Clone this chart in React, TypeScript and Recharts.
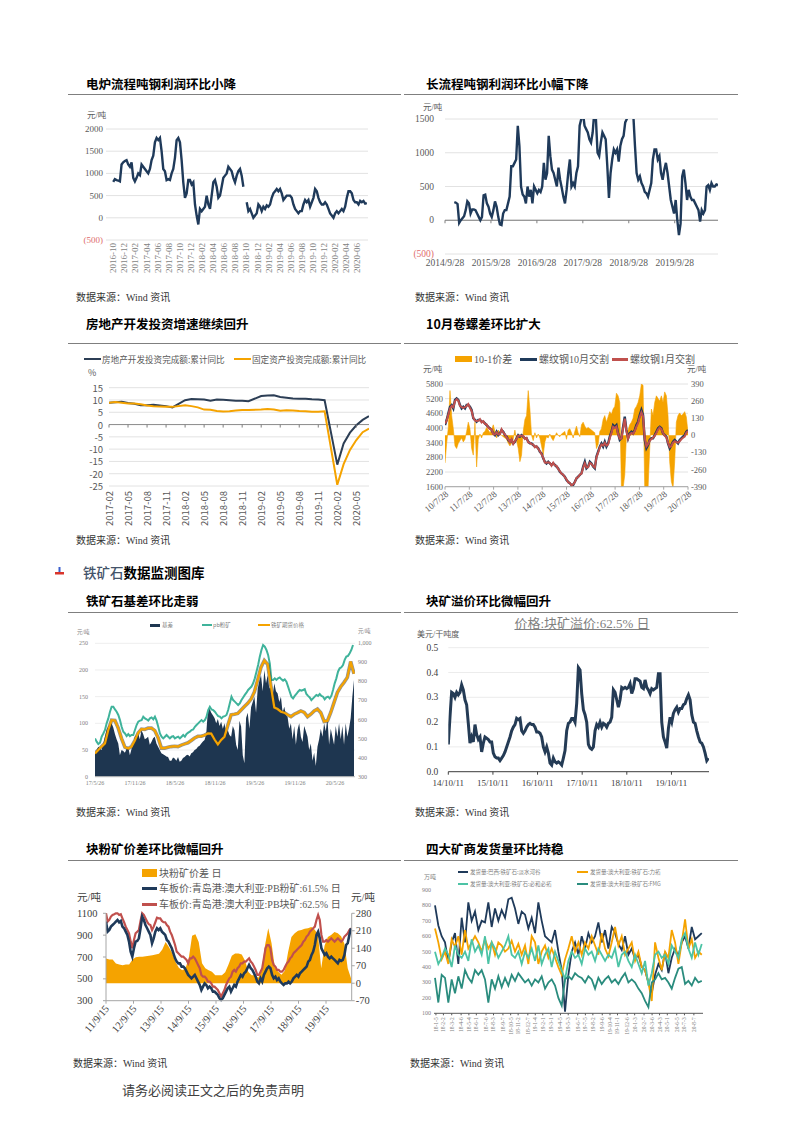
import React from "react"
import { Area, CartesianGrid, ComposedChart, Line, ReferenceLine, XAxis, YAxis } from "recharts"

const SERIF = '"Liberation Serif", "Noto Sans CJK SC", serif'
const SANS = '"Noto Sans CJK SC", "Noto Sans", sans-serif'
const NAVY = "#1f3a5a"
const ORANGE = "#f5a300"
const RED = "#c0504d"
const GRID = "#e2e2e2"
const GREY = "#595959"

// ---------- data ----------

// 电炉流程吨钢利润 (元/吨), 2016-10 .. 2020-07
const eafTicks = ["2016-10", "2016-12", "2017-02", "2017-04", "2017-06", "2017-08", "2017-10", "2017-12", "2018-02", "2018-04", "2018-06", "2018-08", "2018-10", "2018-12", "2019-02", "2019-04", "2019-06", "2019-08", "2019-10", "2019-12", "2020-02", "2020-04", "2020-06"]
const eafProfit = [
  810, 870, 850, 840, 820, 1200, 1250, 1280, 1300, 1200, 1150, 1250, 900, 820, 900, 1000, 960, 1200, 1150, 1100,
  1050, 1000, 1100, 1300, 1400, 1700, 1800, 1750, 1800, 1500, 1100, 1050, 850, 870, 850, 1000, 1100, 1350, 1750, 1800,
  1700, 1300, 800, 450, 550, 850, 850, 750, 800, 300, 50, -150, 200, 150, 200, 250, 500, 300, 200, 500,
  800, 850, 700, 450, 500, 700, 900, 950, 1000, 1150, 1100, 1050, 900, 800, 950, 1050, 1100, 950, 700, null,
  350, 150, 200, 100, 0, 50, 100, 300, 250, 150, 250, 200, 280, 250, 300, 450, 550, 600, 650, 600,
  650, 550, 400, 450, 500, 500, 500, 450, 300, 200, 150, 100, 150, 150, 300, 400, 350, 400, 250, 350,
  450, 650, 600, 450, 350, 300, 300, 350, 300, 200, 100, 50, 0, 100, 150, 100, 150, 200, 150, 250,
  450, 600, 600, 550, 400, 350, 350, 300, 380, 350, 380, 320, 330,
]

// 长流程吨钢利润 (元/吨), 2014-12 .. 2020-08
const bofTicks = ["2014/9/28", "2015/9/28", "2016/9/28", "2017/9/28", "2018/9/28", "2019/9/28"]
const bofProfit = [
  270, 260, 240, -40, 0, 30, 60, 150, 280, 250, 100, 160, 160, 150, 100, 50, 0, 50, 370, 380,
  250, 200, 100, 50, 150, 280, 200, 50, -60, -70, 100, 150, 150, 250, 350, 800, 800, 850, 900, 1400,
  1100, 500, 380, 350, 250, 500, 350, 450, 250, 500, 450, 400, 450, 420, 500, 850, 600, 700, 1250, 950,
  750, 700, 600, 500, 780, 600, 480, 350, 250, 450, 700, 900, 500, 550, 500, 700, 800, 1400, 1500, 1600,
  1400, 1350, 1300, 1200, 1150, 1300, 1600, 1500, 1000, 950, 1150, 1300, 1250, 1200, 800, 330, 700, 900, 1050, 1000,
  1050, 870, 1100, 1200, 1250, 1450, 1500, 1700, 1800, 1600, 1550, 1100, 700, 600, 650, 550, 500, 420, 400, 350,
  450, 550, 900, 1050, 1050, 900, 950, 700, 600, 750, 850, 700, 500, 300, 200, 100, 300, 0, -220, -50,
  650, 750, 550, 300, 450, 350, 300, 300, 250, 200, 150, -20, 150, 100, 150, 500, 520, 450, 550, 500,
  500, 530, 520,
]

// 房地产开发投资 / 固定资产投资 累计同比 (%)
const fixedMonths = [
  "2017-02", "2017-03", "2017-04", "2017-05", "2017-06", "2017-07", "2017-08", "2017-09", "2017-10", "2017-11", "2017-12",
  "2018-02", "2018-03", "2018-04", "2018-05", "2018-06", "2018-07", "2018-08", "2018-09", "2018-10", "2018-11", "2018-12",
  "2019-02", "2019-03", "2019-04", "2019-05", "2019-06", "2019-07", "2019-08", "2019-09", "2019-10", "2019-11", "2019-12",
  "2020-02", "2020-03", "2020-04", "2020-05", "2020-06", "2020-07",
]
const realEstateYoy = [
  8.9, 9.1, 9.3, 8.8, 8.5, 7.9, 7.9, 8.1, 7.8, 7.5, 7.0,
  9.9, 10.4, 10.3, 10.2, 9.7, 10.2, 10.1, 9.9, 9.7, 9.7, 9.5,
  11.6, 11.8, 11.9, 11.2, 10.9, 10.6, 10.5, 10.5, 10.3, 10.2, 9.9,
  -16.3, -7.7, -3.3, -0.3, 1.9, 3.4,
]
const faiYoy = [
  8.9, 9.2, 8.9, 8.6, 8.6, 8.3, 7.8, 7.5, 7.3, 7.2, 7.2,
  7.9, 7.5, 7.0, 6.1, 6.0, 5.5, 5.3, 5.4, 5.7, 5.9, 5.9,
  6.1, 6.3, 6.1, 5.6, 5.8, 5.7, 5.5, 5.4, 5.2, 5.2, 5.4,
  -24.5, -16.1, -10.3, -6.3, -3.1, -1.6,
]
const fixedTicks = ["2017-02", "2017-05", "2017-08", "2017-11", "2018-02", "2018-05", "2018-08", "2018-11", "2019-02", "2019-05", "2019-08", "2019-11", "2020-02", "2020-05"]

// 螺纹钢 10月 / 1月 交割 (元/吨) and 10-1 价差
const rebarTicks = ["10/7/28", "11/7/28", "12/7/28", "13/7/28", "14/7/28", "15/7/28", "16/7/28", "17/7/28", "18/7/28", "19/7/28", "20/7/28"]
const rebarOct = [
  4120, 4330, 4600, 4870, 4940, 4800, 5150, 5210, 5150, 4940, 4800, 4870, 4800, 4940, 4940, 4870, 4740, 4400, 4330, 4260,
  4330, 4330, 4260, 4260, 4190, 4120, 4050, 3990, 3920, 3780, 3710, 3850, 3710, 3780, 3920, 3850, 3710, 3650, 3510, 3440,
  3510, 3370, 3440, 3580, 3710, 3650, 3710, 3650, 3580, 3580, 3440, 3370, 3370, 3300, 3240, 3240, 3170, 3030, 2960, 2760,
  2620, 2550, 2620, 2550, 2490, 2550, 2490, 2420, 2350, 2210, 2150, 2080, 2010, 1870, 1800, 1740, 1670, 1670, 1800, 1940,
  2010, 2080, 2150, 2420, 2620, 2350, 2420, 2620, 2550, 2420, 2350, 2830, 3030, 3240, 3370, 3240, 3440, 3240, 3370, 3650,
  3850, 4120, 4050, 4120, 3780, 3510, 3580, 4050, 4460, 3920, 3580, 3780, 3850, 3780, 3920, 4120, 4260, 4530, 4740, 4530,
  3510, 3170, 3300, 3510, 3580, 3580, 3710, 3850, 3990, 4050, 3990, 3780, 3710, 3650, 3370, 3170, 3300, 3440, 3510, 3440,
  3370, 3510, 3580, 3650, 3710, 3850, 3920,
]
const rebarJan = [
  4180, 4300, 4550, 4800, 4900, 4850, 5100, 5180, 5120, 4900, 4850, 4820, 4850, 4900, 4980, 4820, 4700, 4420, 4300, 4290,
  4300, 4360, 4230, 4280, 4160, 4150, 4020, 3960, 3950, 3750, 3740, 3820, 3740, 3750, 3950, 3820, 3740, 3620, 3540, 3420,
  3540, 3350, 3470, 3550, 3680, 3680, 3680, 3680, 3550, 3600, 3410, 3400, 3340, 3330, 3210, 3260, 3150, 3050, 2930, 2790,
  2590, 2580, 2600, 2580, 2460, 2580, 2470, 2450, 2330, 2240, 2130, 2100, 1990, 1900, 1780, 1760, 1650, 1700, 1780, 1960,
  1990, 2100, 2130, 2380, 2560, 2380, 2400, 2580, 2530, 2440, 2380, 2800, 2990, 3200, 3330, 3280, 3400, 3280, 3330, 3580,
  3800, 4050, 4000, 4060, 3760, 3560, 3560, 3980, 4380, 3880, 3560, 3740, 3800, 3760, 3880, 4060, 4200, 4450, 4640, 4480,
  3600, 3250, 3340, 3480, 3550, 3600, 3680, 3800, 3940, 4020, 3960, 3800, 3680, 3620, 3400, 3220, 3260, 3400, 3460, 3420,
  3400, 3460, 3540, 3600, 3650, 3800, 3880,
]
const octJanSpread = [
  -210, -60, 60, 340, 150, 50, -80, -100, -60, -40, -20, -50, -30, 30, 100, 50, -100, -150, 100, -240,
  -30, 10, -20, 20, 30, 60, 40, 20, 40, 80, 30, -20, 40, 10, 0, -10, -20, -30, -60, -80,
  -60, -30, 40, -40, -100, -200, -150, 30, 120, 150, 340, 200, 0, -40, 20, -20, 10, -20, -80, -150,
  -50, -10, -20, 10, -20, -40, -10, 20, 0, -10, 10, 20, 30, -30, 40, 50, 20, -20, 30, 70,
  20, -10, 80, 100, 70, 50, 60, 50, 40, 30, 20, -100, -70, 30, 50, 120, 150, 100, 140, 180,
  160, 200, 220, 320, 300, 250, -400, -400, -300, 0, 40, 80, 100, 130, 200, 220, 250, 300, 390, 380,
  -400, -400, -400, -100, 200, 150, 250, 300, 280, 260, 300, 250, 330, 300, 150, -200, -350, -400, -200, 100,
  150, 170, 150, 160, 180, 140, 20,
]

// 铁矿石基差 (元/吨, 左轴) / pb粉矿 & 铁矿期货价格 (元/吨, 右轴)
const basisTicks = ["17/5/26", "17/11/26", "18/5/26", "18/11/26", "19/5/26", "19/11/26", "20/5/26"]
const oreBasis = [
  44, 50, 56, 52, 50, 62, 75, 88, 94, 98, 100, 92, 80, 70, 62, 40, 50, 48, 45, 52,
  56, 40, 52, 60, 75, 78, 81, 70, 87, 80, 70, 72, 75, 60, 65, 72, 75, 62, 56, 50,
  44, 42, 40, 38, 37, 30, 30, 36, 34, 30, 37, 28, 30, 35, 37, 40, 41, 38, 44, 46,
  50, 52, 56, 58, 62, 66, 69, 80, 125, 128, 120, 115, 110, 100, 108, 95, 103, 90, 100, 80,
  87, 78, 75, 95, 87, 60, 50, 105, 94, 40, 25, 110, 120, 90, 130, 140, 150, 120, 165, 180,
  190, 160, 200, 175, 190, 165, 172, 150, 175, 160, 156, 140, 150, 120, 131, 115, 112, 90, 100, 70,
  95, 60, 88, 100, 75, 65, 95, 85, 75, 50, 62, 30, 45, 20, 56, 70, 90, 75, 100, 85,
  110, 60, 90, 75, 60, 95, 75, 100, 70, 95, 60, 100, 75, 90, 110, 150, 181,
]
const pbFinesSpot = [
  501, 484, 471, 478, 510, 527, 545, 580, 606, 641, 667, 667, 653, 641, 624, 597, 562, 536, 527, 513,
  524, 513, 519, 519, 545, 571, 589, 594, 597, 615, 606, 601, 594, 606, 611, 601, 615, 594, 562, 527,
  510, 501, 510, 519, 510, 501, 510, 513, 501, 506, 510, 501, 510, 519, 510, 524, 531, 536, 545, 548,
  562, 571, 580, 589, 597, 589, 597, 615, 650, 667, 653, 650, 641, 629, 618, 615, 606, 615, 618, 624,
  650, 685, 720, 702, 694, 685, 676, 685, 702, 716, 729, 741, 755, 764, 773, 790, 816, 851, 886, 930,
  965, 991, 983, 965, 939, 895, 808, 808, 816, 808, 816, 821, 811, 804, 811, 799, 773, 746, 720, 711,
  724, 734, 746, 755, 751, 755, 759, 734, 724, 716, 702, 711, 720, 729, 724, 734, 724, 720, 706, 716,
  720, 711, 724, 755, 790, 816, 851, 869, 874, 886, 913, 930, 934, 948, 965, 991,
]
const oreFutures = [
  422, 440, 458, 475, 545, 597, 595, 555, 500, 455, 448, 458, 490, 530, 550, 548, 555, 555, 542, 505,
  450, 450, 455, 458, 460, 458, 466, 472, 478, 490, 503, 512, 512, 518, 527, 526, 495, 470, 493, 510,
  570, 625, 628, 632, 650, 668, 685, 707, 745, 808, 875, 910, 890, 773, 663, 655, 641, 636, 625, 615,
  628, 636, 645, 637, 615, 628, 645, 655, 636, 590, 593, 637, 690, 742, 772, 795, 821, 904, 840,
]

// 块矿溢价:62.5% (美元/干吨度)
const lumpTicks = ["14/10/11", "15/10/11", "16/10/11", "17/10/11", "18/10/11", "19/10/11"]
const lumpPremium = [
  0.11, 0.22, 0.32, 0.315, 0.3, 0.32, 0.31, 0.32, 0.35, 0.33, 0.29, 0.27, 0.195, 0.115, 0.14, 0.12, 0.19, 0.15, 0.13, 0.14,
  0.08, 0.115, 0.14, 0.135, 0.13, 0.12, 0.12, 0.075, 0.06, 0.055, 0.055, 0.045, 0.055, 0.065, 0.08, 0.1, 0.12, 0.14, 0.165, 0.18,
  0.19, 0.215, 0.21, 0.215, 0.165, 0.155, 0.165, 0.18, 0.19, 0.195, 0.19, 0.19, 0.18, 0.16, 0.16, 0.155, 0.14, 0.1, 0.08, 0.1,
  0.075, 0.035, 0.027, 0.055, 0.04, 0.035, 0.04, 0.035, 0.027, 0.055, 0.085, 0.165, 0.195, 0.2, 0.215, 0.215, 0.2, 0.275, 0.42, 0.41,
  0.315, 0.25, 0.23, 0.2, 0.11, 0.095, 0.09, 0.1, 0.165, 0.19, 0.18, 0.2, 0.18, 0.195, 0.19, 0.18, 0.195, 0.2, 0.22, 0.33,
  0.32, 0.29, 0.26, 0.29, 0.34, 0.335, 0.34, 0.335, 0.34, 0.355, 0.315, 0.335, 0.375, 0.375, 0.37, 0.365, 0.34, 0.335, 0.37, 0.34,
  0.33, 0.315, 0.335, 0.33, 0.335, 0.34, 0.395, 0.395, 0.2, 0.14, 0.12, 0.095, 0.175, 0.22, 0.2, 0.235, 0.25, 0.26, 0.24, 0.255,
  0.255, 0.27, 0.275, 0.295, 0.31, 0.29, 0.23, 0.2, 0.195, 0.165, 0.14, 0.12, 0.115, 0.1, 0.075, 0.045, 0.055,
]

// 块粉矿价差 (右轴) / PB粉矿 & PB块矿 车板价 (左轴), 元/吨
const qdTicks = ["11/9/15", "12/9/15", "13/9/15", "14/9/15", "15/9/15", "16/9/15", "17/9/15", "18/9/15", "19/9/15"]
const lumpFineSpread = [
  99, 95, 95, 79, 75, 72, 75, 75, 95, 104, 106, 106, 108, 110, 112, 115, 118, 135, 165, 145,
  120, 85, 62, 52, 59, 100, 190, 196, 165, 80, 60, 52, 46, 32, 32, 32, 44, 75, 110, 119,
  119, 115, 90, 45, 32, 32, 22, 50, 150, 220, 160, 62, 46, 34, 50, 125, 185, 200, 210, 213,
  218, 220, 225, 215, 195, 60, 150, 185, 193, 205, 200, 188, 158, 60, 20,
]
const pbFines615 = [
  1024, 932, 947, 978, 993, 1008, 1024, 1039, 1018, 1030, 978, 963, 932, 902, 841, 749, 703, 780, 841, 847,
  871, 963, 1070, 1039, 993, 963, 932, 902, 826, 871, 932, 963, 947, 963, 932, 917, 902, 856, 841, 810,
  780, 734, 688, 658, 642, 642, 612, 612, 597, 566, 536, 520, 505, 520, 536, 505, 475, 444, 398, 429,
  459, 444, 414, 429, 414, 383, 383, 368, 353, 322, 307, 322, 353, 383, 414, 429, 383, 414, 444, 429,
  475, 505, 536, 520, 551, 566, 597, 627, 597, 582, 551, 520, 475, 459, 505, 475, 536, 566, 597, 612,
  597, 536, 505, 520, 490, 505, 475, 459, 444, 459, 459, 475, 459, 475, 505, 520, 536, 520, 551, 566,
  582, 597, 612, 658, 673, 719, 749, 810, 902, 932, 871, 780, 749, 719, 734, 703, 688, 703, 688, 673,
  658, 642, 673, 664, 673, 719, 810, 826, 902, 963,
]
const pbLump625 = [
  1100, 1024, 1039, 1070, 1085, 1091, 1100, 1100, 1085, 1091, 1054, 1018, 978, 947, 917, 841, 780, 856, 917, 932,
  947, 1030, 1100, 1085, 1054, 1024, 1000, 993, 947, 978, 1018, 1060, 1054, 1054, 1030, 1018, 1018, 993, 978, 932,
  902, 856, 810, 749, 734, 719, 703, 703, 688, 673, 642, 688, 688, 703, 688, 658, 627, 597, 536, 520,
  520, 505, 475, 475, 459, 429, 429, 414, 398, 368, 337, 368, 398, 444, 475, 505, 520, 566, 582, 566,
  597, 612, 642, 642, 658, 658, 673, 688, 658, 642, 612, 582, 536, 536, 566, 597, 688, 780, 810, 810,
  780, 673, 627, 612, 582, 582, 566, 566, 582, 612, 642, 658, 688, 703, 734, 749, 765, 780, 795, 810,
  841, 856, 887, 902, 932, 947, 963, 978, 1039, 1085, 1039, 902, 841, 841, 856, 841, 856, 871, 856, 841,
  856, 871, 856, 841, 856, 887, 902, 917, 947, 963,
]

// 四大矿商发货量 (万吨)
const shipTicks = ["18-1-5", "18-2-2", "18-3-2", "18-4-6", "18-5-4", "18-6-1", "18-7-6", "18-8-3", "18-9-7", "18-10-5", "18-11-2", "18-12-7", "19-1-4", "19-2-1", "19-3-1", "19-4-5", "19-5-3", "19-6-7", "19-7-5", "19-8-2", "19-9-6", "19-10-4", "19-11-1", "19-12-6", "20-1-3", "20-2-7", "20-3-6", "20-4-3", "20-5-1", "20-6-5", "20-7-3", "20-8-7"]
const valeShip = [
  800, 670, 600, 560, 430, 560, 620, 420, 720, 560, 820, 700, 760, 640, 700, 690, 820, 660, 780, 700,
  770, 720, 840, 850, 780, 680, 760, 740, 650, 720, 620, 820, 700, 600, 580, 560, 640, 500, 380, 110,
  350, 500, 560, 480, 600, 520, 620, 560, 600, 690, 560, 640, 520, 660, 620, 550, 510, 600, 480, 520,
  450, 480, 400, 380, 300, 230, 350, 420, 380, 500, 360, 460, 520, 470, 560, 600, 520, 660, 580, 600, 620,
]
const rioShip = [
  650, 560, 450, 500, 420, 580, 530, 600, 480, 640, 520, 560, 600, 560, 500, 580, 520, 560, 480, 560,
  540, 500, 520, 570, 500, 550, 480, 540, 420, 600, 560, 420, 500, 540, 460, 520, 460, 400, 350, 450,
  520, 600, 500, 560, 480, 560, 520, 600, 540, 480, 620, 520, 470, 560, 660, 540, 600, 480, 520, 560,
  440, 500, 400, 380, 300, 180, 560, 460, 380, 500, 460, 640, 560, 420, 560, 710, 520, 580, 460, 500, 480,
]
const bhpShip = [
  500, 420, 460, 520, 480, 400, 540, 480, 460, 500, 440, 580, 500, 540, 480, 600, 420, 560, 520, 460,
  500, 540, 600, 480, 460, 500, 420, 500, 460, 520, 440, 540, 420, 480, 520, 400, 500, 440, 380, 320,
  440, 500, 460, 480, 420, 520, 480, 500, 440, 520, 480, 440, 480, 460, 520, 400, 480, 500, 440, 400,
  480, 420, 360, 440, 280, 360, 480, 500, 460, 480, 420, 540, 500, 460, 580, 620, 520, 460, 560, 480, 550,
]
const fmgShip = [
  330, 170, 350, 330, 170, 320, 230, 340, 260, 380, 330, 300, 380, 350, 380, 320, 170, 320, 260, 340,
  270, 330, 280, 350, 310, 360, 330, 300, 320, 280, 320, 300, 340, 260, 300, 320, 280, 200, 150, 320,
  340, 320, 360, 340, 330, 300, 340, 320, 260, 330, 290, 320, 340, 300, 320, 290, 330, 360, 300, 320,
  300, 260, 230, 180, 140, 300, 320, 360, 320, 330, 300, 260, 330, 390, 400, 290, 310, 280, 330, 300, 310,
]

// ---------- helpers ----------

// months since 2000-01 for "2016-10", "14/10/11", "18-1-5"
const mo = (s: string) => {
  const [y, m, d] = s.split(/[-/]/).map(Number)
  const yy = y < 100 ? 2000 + y : y
  return (yy - 2000) * 12 + (m - 1) + (d ? (d - 1) / 30 : 0)
}

// readings taken at even spacing between two dates
const along = (vals: (number | null)[], t0: number, t1: number) =>
  vals.map((v, i) => ({ t: t0 + ((t1 - t0) * i) / (vals.length - 1), v }))

const Txt = ({ x, y, size, color = "#404040", font = SERIF, weight = 400, center = false, children, style = {} }: any) => (
  <div
    style={{
      position: "absolute", left: x, top: y - size * 0.75, fontSize: size, lineHeight: `${size * 1.5}px`,
      color, fontFamily: font, fontWeight: weight, whiteSpace: "nowrap",
      transform: center ? "translateX(-50%)" : undefined, ...style,
    }}
  >
    {children}
  </div>
)

const Swatch = ({ x, y, w, h, color }: any) => (
  <div style={{ position: "absolute", left: x, top: y - h / 2, width: w, height: h, background: color }} />
)

const Rule = ({ x1, x2, y }: any) => (
  <div style={{ position: "absolute", left: x1, top: y, width: x2 - x1, height: 1, background: "#7f7f7f" }} />
)

const Title = ({ x, y, children }: any) => (
  <Txt x={x} y={y} size={12.5} color="#000" font={SANS} weight={700}>{children}</Txt>
)

const Source = ({ x, y }: any) => <Txt x={x} y={y} size={10} color="#333">数据来源：Wind 资讯</Txt>

const paren = (v: number) => (v < 0 ? `(${-v})` : `${v}`)

// ---------- charts ----------

function EafChart() {
  const PL = 36, PB = 140
  const t0 = mo("2016-10")
  const ticks = eafTicks.map(mo)
  return (
    <ComposedChart width={330} height={190} margin={{ top: 29, right: 32, bottom: 5, left: 0 }}>
      <CartesianGrid vertical={false} stroke={GRID} />
      <XAxis type="number" dataKey="t" domain={[t0 - 1.3, t0 + 45.9]} allowDataOverflow ticks={ticks} interval={0}
        height={45} axisLine={false} tickLine={false} tickSize={0}
        tick={(p: any) => (
          <text x={p.x} y={PB + 3} transform={`rotate(-90 ${p.x} ${PB + 3})`} textAnchor="end" dominantBaseline="central"
            fontSize={9} fontFamily={SERIF} fill="#7f7f7f">{eafTicks[ticks.indexOf(p.payload.value)]}</text>
        )} />
      <YAxis type="number" domain={[-500, 2000]} ticks={[-500, 0, 500, 1000, 1500, 2000]} interval={0} width={PL}
        axisLine={false} tickLine={false} tickSize={0}
        tick={(p: any) => (
          <text x={PL - 3} y={p.y} textAnchor="end" dominantBaseline="central" fontSize={9} fontFamily={SERIF}
            fill={p.payload.value < 0 ? "#e06c6c" : GREY}>{paren(p.payload.value)}</text>
        )} />
      <Line data={along(eafProfit, t0, t0 + 45.69)} dataKey="v" stroke={NAVY} strokeWidth={2.4} dot={false}
        activeDot={false} isAnimationActive={false} />
    </ComposedChart>
  )
}

function BofChart() {
  const PL = 40, PB = 154, Z = 120.25
  const t0 = mo("2014/9/28")
  const ticks = bofTicks.map(mo)
  return (
    <ComposedChart width={335} height={175} margin={{ top: 19, right: 22, bottom: 1, left: 0 }}>
      <CartesianGrid vertical={false} stroke={GRID} />
      <XAxis type="number" dataKey="t" domain={[t0, t0 + 71.3]} allowDataOverflow ticks={ticks} interval={0}
        height={20} axisLine={false} tickLine={false} tickSize={0}
        tick={(p: any) => (
          <g>
            <line x1={p.x} x2={p.x} y1={Z} y2={Z + 3} stroke="#7f7f7f" />
            <text x={p.x} y={PB + 9} textAnchor="middle" dominantBaseline="central" fontSize={9.5} fontFamily={SERIF}
              fill={GREY}>{bofTicks[ticks.indexOf(p.payload.value)]}</text>
          </g>
        )} />
      <YAxis type="number" domain={[-500, 1500]} allowDataOverflow ticks={[-500, 0, 500, 1000, 1500]} interval={0}
        width={PL} axisLine={false} tickLine={false} tickSize={0}
        tick={(p: any) => (
          <text x={PL - 11} y={p.y} textAnchor="end" dominantBaseline="central" fontSize={9.5} fontFamily={SERIF}
            fill={p.payload.value < 0 ? "#e06c6c" : GREY}>{paren(p.payload.value)}</text>
        )} />
      <ReferenceLine y={0} stroke="#7f7f7f" />
      <Line data={along(bofProfit, t0 + 2.43, t0 + 71.3)} dataKey="v" stroke={NAVY} strokeWidth={2.4} dot={false}
        activeDot={false} isAnimationActive={false} />
    </ComposedChart>
  )
}

function FixedInvChart() {
  const PL = 39, PB = 121, Z = 59.56
  const ticks = fixedTicks.map(mo)
  const re = fixedMonths.map((m, i) => ({ t: mo(m), v: realEstateYoy[i] }))
  const fai = fixedMonths.map((m, i) => ({ t: mo(m), v: faiYoy[i] }))
  return (
    <ComposedChart width={330} height={165} margin={{ top: 22.7, right: 31, bottom: 0, left: 0 }}>
      <CartesianGrid vertical={false} stroke={GRID} />
      <XAxis type="number" dataKey="t" domain={[mo("2017-02"), mo("2020-07")]} allowDataOverflow ticks={ticks}
        interval={0} height={44} axisLine={false} tickLine={false} tickSize={0}
        tick={(p: any) => (
          <g>
            <line x1={p.x} x2={p.x} y1={Z} y2={Z + 3} stroke="#7f7f7f" />
            <text x={p.x} y={PB + 5} transform={`rotate(-90 ${p.x} ${PB + 5})`} textAnchor="end"
              dominantBaseline="central" fontSize={9.5} fontFamily={SANS} fill={GREY}>
              {fixedTicks[ticks.indexOf(p.payload.value)]}
            </text>
          </g>
        )} />
      <YAxis type="number" domain={[-25, 15]} ticks={[-25, -20, -15, -10, -5, 0, 5, 10, 15]} interval={0} width={PL}
        axisLine={false} tickLine={false} tickSize={0}
        tick={(p: any) => (
          <text x={PL - 6} y={p.y} textAnchor="end" dominantBaseline="central" fontSize={9.5} fontFamily={SANS}
            fill={GREY}>{p.payload.value}</text>
        )} />
      <ReferenceLine y={0} stroke="#8c8c8c" />
      <Line data={re} dataKey="v" stroke="#2c3e55" strokeWidth={2} dot={false} activeDot={false} isAnimationActive={false} />
      <Line data={fai} dataKey="v" stroke={ORANGE} strokeWidth={2} dot={false} activeDot={false} isAnimationActive={false} />
    </ComposedChart>
  )
}

function RebarChart() {
  const PL = 40, PR = 283, PB = 121.7
  const t0 = mo("10/7/28")
  const ticks = rebarTicks.map(mo)
  const t1 = t0 + 120
  return (
    <ComposedChart width={335} height={155} margin={{ top: 19, right: 0, bottom: 0, left: 0 }}>
      <CartesianGrid vertical={false} stroke={GRID} />
      <XAxis type="number" dataKey="t" domain={[t0, t1]} allowDataOverflow ticks={ticks} interval={0} height={33.3}
        axisLine={{ stroke: "#a6a6a6" }} tickLine={{ stroke: "#a6a6a6" }} tickSize={3}
        tick={(p: any) => (
          <text x={p.x + 2} y={PB + 6} transform={`rotate(-40 ${p.x + 2} ${PB + 6})`} textAnchor="end"
            dominantBaseline="central" fontSize={9} fontFamily={SERIF} fill={GREY}>
            {rebarTicks[ticks.indexOf(p.payload.value)]}
          </text>
        )} />
      <YAxis type="number" domain={[1600, 5800]} ticks={[1600, 2200, 2800, 3400, 4000, 4600, 5200, 5800]} interval={0}
        width={PL} axisLine={false} tickLine={false} tickSize={0}
        tick={(p: any) => (
          <text x={PL - 2} y={p.y} textAnchor="end" dominantBaseline="central" fontSize={8.5} fontFamily={SERIF}
            fill={GREY}>{p.payload.value}</text>
        )} />
      <YAxis yAxisId="r" orientation="right" type="number" domain={[-390, 390]} allowDataOverflow
        ticks={[-390, -260, -130, 0, 130, 260, 390]} interval={0} width={52} axisLine={false} tickLine={false} tickSize={0}
        tick={(p: any) => (
          <text x={PR + 3} y={p.y} textAnchor="start" dominantBaseline="central" fontSize={8.5} fontFamily={SERIF}
            fill={GREY}>{p.payload.value}</text>
        )} />
      <Area yAxisId="r" data={along(octJanSpread, t0, t1)} dataKey="v" baseValue={0} type="linear" fill={ORANGE}
        fillOpacity={1} stroke={ORANGE} strokeWidth={0.6} dot={false} activeDot={false} isAnimationActive={false} />
      <Line data={along(rebarOct, t0, t1)} dataKey="v" stroke={NAVY} strokeWidth={2.4} dot={false} activeDot={false}
        isAnimationActive={false} />
      <Line data={along(rebarJan, t0, t1)} dataKey="v" stroke={RED} strokeWidth={2} dot={false} activeDot={false}
        isAnimationActive={false} />
    </ComposedChart>
  )
}

function BasisChart() {
  const PL = 25, PR = 285, PB = 156.7
  const t0 = mo("17/5/26")
  const ticks = basisTicks.map(mo)
  const t1 = t0 + 38.85
  return (
    <ComposedChart width={310} height={170} margin={{ top: 23.3, right: 0, bottom: 0, left: 0 }}>
      <CartesianGrid vertical={false} stroke="#eeeeee" />
      <XAxis type="number" dataKey="t" domain={[t0, t0 + 39]} allowDataOverflow ticks={ticks} interval={0} height={13.3}
        axisLine={{ stroke: "#bfbfbf" }} tickLine={false} tickSize={0}
        tick={(p: any) => (
          <text x={p.x} y={PB + 6.6} textAnchor="middle" dominantBaseline="central" fontSize={6} fontFamily={SERIF}
            fill="#7f7f7f">{basisTicks[ticks.indexOf(p.payload.value)]}</text>
        )} />
      <YAxis type="number" domain={[0, 250]} ticks={[0, 50, 100, 150, 200, 250]} interval={0} width={PL}
        axisLine={false} tickLine={false} tickSize={0}
        tick={(p: any) => (
          <text x={PL - 7} y={p.y} textAnchor="end" dominantBaseline="central" fontSize={6} fontFamily={SERIF}
            fill="#7f7f7f">{p.payload.value}</text>
        )} />
      <YAxis yAxisId="r" orientation="right" type="number" domain={[300, 1000]}
        ticks={[300, 400, 500, 600, 700, 800, 900, 1000]} interval={0} width={25} axisLine={false} tickLine={false}
        tickSize={0}
        tick={(p: any) => (
          <text x={PR + 3} y={p.y} textAnchor="start" dominantBaseline="central" fontSize={6} fontFamily={SERIF}
            fill="#7f7f7f">{p.payload.value.toLocaleString("en-US")}</text>
        )} />
      <Area data={along(oreBasis, t0, t1)} dataKey="v" baseValue={0} type="linear" fill="#1e3650" fillOpacity={1}
        stroke="none" dot={false} activeDot={false} isAnimationActive={false} />
      <Line yAxisId="r" data={along(pbFinesSpot, t0, t0 + 38.7)} dataKey="v" stroke="#3fb39b" strokeWidth={2}
        dot={false} activeDot={false} isAnimationActive={false} />
      <Line yAxisId="r" data={along(oreFutures, t0, t1)} dataKey="v" stroke="#3a3a3a" strokeOpacity={0.55}
        strokeWidth={3.6} dot={false} activeDot={false} isAnimationActive={false} />
      <Line yAxisId="r" data={along(oreFutures, t0, t1)} dataKey="v" stroke={ORANGE} strokeWidth={2.2} dot={false}
        activeDot={false} isAnimationActive={false} />
    </ComposedChart>
  )
}

function LumpPremiumChart() {
  const PL = 43.3, PB = 151.7
  const t0 = mo("14/10/11")
  const ticks = lumpTicks.map(mo)
  return (
    <ComposedChart width={335} height={175} margin={{ top: 27.7, right: 31, bottom: 0, left: 0 }}>
      <CartesianGrid vertical={false} stroke="#ececec" />
      <XAxis type="number" dataKey="t" domain={[t0, t0 + 70.1]} allowDataOverflow ticks={ticks} interval={0}
        height={23.3} axisLine={{ stroke: "#404040" }} tickLine={{ stroke: "#404040" }} tickSize={3}
        tick={(p: any) => (
          <text x={p.x} y={PB + 11} textAnchor="middle" dominantBaseline="central" fontSize={9} fontFamily={SERIF}
            fill="#404040">{lumpTicks[ticks.indexOf(p.payload.value)]}</text>
        )} />
      <YAxis type="number" domain={[0, 0.5]} ticks={[0, 0.1, 0.2, 0.3, 0.4, 0.5]} interval={0} width={PL}
        axisLine={false} tickLine={false} tickSize={0}
        tick={(p: any) => (
          <text x={PL - 10} y={p.y} textAnchor="end" dominantBaseline="central" fontSize={9.5} fontFamily={SERIF}
            fill="#404040">{Number(p.payload.value).toFixed(1)}</text>
        )} />
      <Line data={along(lumpPremium, t0, t0 + 69.95)} dataKey="v" stroke="#243b55" strokeWidth={3} dot={false}
        activeDot={false} isAnimationActive={false} />
    </ComposedChart>
  )
}

function LumpFineChart() {
  const PR = 281.7, PB = 110.7
  const t0 = mo("11/9/15")
  const ticks = qdTicks.map(mo)
  const t1 = t0 + 106.9
  return (
    <ComposedChart width={305} height={150} margin={{ top: 23.3, right: 0, bottom: 0, left: 0 }}>
      <XAxis type="number" dataKey="t" domain={[t0, t0 + 107.2]} allowDataOverflow ticks={ticks} interval={0}
        height={39.3} axisLine={{ stroke: "#a6a6a6" }} tickLine={{ stroke: "#a6a6a6" }} tickSize={3}
        tick={(p: any) => (
          <text x={p.x + 1} y={PB + 6} transform={`rotate(-50 ${p.x + 1} ${PB + 6})`} textAnchor="end"
            dominantBaseline="central" fontSize={10.5} fontFamily={SERIF} fill="#404040">
            {qdTicks[ticks.indexOf(p.payload.value)]}
          </text>
        )} />
      <YAxis type="number" domain={[300, 1100]} ticks={[300, 500, 700, 900, 1100]} interval={0} width={36}
        axisLine={{ stroke: "#a6a6a6" }} tickLine={{ stroke: "#a6a6a6" }} tickSize={3}
        tick={(p: any) => (
          <text x={7} y={p.y} textAnchor="start" dominantBaseline="central" fontSize={10.5} fontFamily={SERIF}
            fill="#404040">{p.payload.value}</text>
        )} />
      <YAxis yAxisId="r" orientation="right" type="number" domain={[-70, 280]} ticks={[-70, 0, 70, 140, 210, 280]}
        interval={0} width={23.3} axisLine={{ stroke: "#a6a6a6" }} tickLine={{ stroke: "#a6a6a6" }} tickSize={3}
        tick={(p: any) => (
          <text x={PR + 4} y={p.y} textAnchor="start" dominantBaseline="central" fontSize={10.5} fontFamily={SERIF}
            fill="#404040">{p.payload.value}</text>
        )} />
      <Area yAxisId="r" data={along(lumpFineSpread, t0, t1)} dataKey="v" baseValue={0} type="linear" fill={ORANGE}
        fillOpacity={1} stroke="none" dot={false} activeDot={false} isAnimationActive={false} />
      <Line data={along(pbLump625, t0, t1)} dataKey="v" stroke={RED} strokeWidth={2.2} dot={false} activeDot={false}
        isAnimationActive={false} />
      <Line data={along(pbFines615, t0, t1)} dataKey="v" stroke={NAVY} strokeWidth={2.6} dot={false} activeDot={false}
        isAnimationActive={false} />
    </ComposedChart>
  )
}

function ShipmentChart() {
  const PL = 29, PB = 148.3
  const t0 = mo("2018-1-1")
  const ticks = shipTicks.map(mo)
  const a = t0 + 0.02, b = t0 + 32.15
  const series: [number[], string][] = [[valeShip, NAVY], [rioShip, ORANGE], [bhpShip, "#4cc3a5"], [fmgShip, "#2a8c7e"]]
  return (
    <ComposedChart width={335} height={180} margin={{ top: 25, right: 37, bottom: 0, left: 0 }}>
      <XAxis type="number" dataKey="t" domain={[t0 - 0.1, t0 + 32.3]} allowDataOverflow ticks={ticks} interval={0}
        height={31.7} axisLine={{ stroke: GREY }} tickLine={{ stroke: GREY }} tickSize={2}
        tick={(p: any) => (
          <text x={p.x} y={PB + 4} transform={`rotate(-90 ${p.x} ${PB + 4})`} textAnchor="end" dominantBaseline="central"
            fontSize={5.5} fontFamily={SERIF} fill="#7f7f7f">{shipTicks[ticks.indexOf(p.payload.value)]}</text>
        )} />
      <YAxis type="number" domain={[100, 900]} ticks={[100, 200, 300, 400, 500, 600, 700, 800, 900]} interval={0}
        width={PL} axisLine={false} tickLine={false} tickSize={0}
        tick={(p: any) => (
          <text x={PL - 3} y={p.y} textAnchor="end" dominantBaseline="central" fontSize={6} fontFamily={SERIF}
            fill="#7f7f7f">{p.payload.value}</text>
        )} />
      {series.map(([vals, color], i) => (
        <Line key={i} data={along(vals, a, b)} dataKey="v" stroke={color} strokeWidth={1.8} dot={false}
          activeDot={false} isAnimationActive={false} />
      ))}
    </ComposedChart>
  )
}

const At = ({ x, y, children }: any) => <div style={{ position: "absolute", left: x, top: y }}>{children}</div>

export default function App() {
  return (
    <div style={{ position: "absolute", left: 0, top: 0, width: 793, height: 1122, background: "#fff", overflow: "hidden" }}>
      {/* row 1 */}
      <Title x={86} y={84}>电炉流程吨钢利润环比小降</Title>
      <Title x={426} y={84}>长流程吨钢利润环比小幅下降</Title>
      <Rule x1={68} x2={401} y={94} />
      <Rule x1={404} x2={738} y={94} />
      <At x={70} y={100}><EafChart /></At>
      <Txt x={87} y={115} size={8.5} color={GREY}>元/吨</Txt>
      <At x={405} y={100}><BofChart /></At>
      <Txt x={423} y={107} size={8.5} color={GREY}>元/吨</Txt>
      <Source x={76} y={297.5} />
      <Source x={415} y={297.5} />

      {/* row 2 */}
      <Title x={86} y={324}>房地产开发投资增速继续回升</Title>
      <Title x={426} y={324}>10月卷螺差环比扩大</Title>
      <Rule x1={68} x2={401} y={343} />
      <Rule x1={404} x2={738} y={343} />
      <Swatch x={84} y={359} w={17} h={2} color="#2c3e55" />
      <Txt x={102} y={359} size={8.6} color={GREY} font={SANS}>房地产开发投资完成额:累计同比</Txt>
      <Swatch x={234} y={359} w={17} h={2} color={ORANGE} />
      <Txt x={252} y={359} size={8.6} color={GREY} font={SANS}>固定资产投资完成额:累计同比</Txt>
      <Txt x={88} y={373} size={9} color={GREY} font={SANS}>%</Txt>
      <At x={70} y={365}><FixedInvChart /></At>
      <Swatch x={455} y={359} w={17} h={6} color={ORANGE} />
      <Txt x={474} y={359} size={10} color={GREY}>10-1价差</Txt>
      <Swatch x={520} y={359} w={17} h={3} color={NAVY} />
      <Txt x={539} y={359} size={10} color={GREY}>螺纹钢10月交割</Txt>
      <Swatch x={612} y={359} w={16} h={3} color={RED} />
      <Txt x={630} y={359} size={10} color={GREY}>螺纹钢1月交割</Txt>
      <Txt x={423} y={369} size={8.5} color={GREY}>元/吨</Txt>
      <Txt x={687} y={369} size={8.5} color={GREY}>元/吨</Txt>
      <At x={405} y={365}><RebarChart /></At>
      <Source x={76} y={540} />
      <Source x={415} y={540} />

      {/* section heading */}
      <svg style={{ position: "absolute", left: 55, top: 567 }} width={9} height={9}>
        <rect x={3.5} y={0} width={2} height={7} fill="#3a5fcd" />
        <rect x={0} y={5} width={9} height={2.5} fill="#d9342b" />
      </svg>
      <Txt x={83} y={572} size={13.5} color="#44546a" font={SANS} weight={500}>
        铁矿石<span style={{ color: "#000", fontWeight: 700 }}>数据监测图库</span>
      </Txt>

      {/* row 3 */}
      <Title x={86} y={601.5}>铁矿石基差环比走弱</Title>
      <Title x={426} y={601.5}>块矿溢价环比微幅回升</Title>
      <Rule x1={68} x2={401} y={611.5} />
      <Rule x1={404} x2={738} y={611.5} />
      <Swatch x={150} y={625} w={10} h={3} color="#1e3650" />
      <Txt x={162} y={625} size={5.5} color="#7f7f7f" font={SANS}>基差</Txt>
      <Swatch x={202} y={625} w={10} h={1.5} color="#3fb39b" />
      <Txt x={213} y={625} size={5.5} color="#7f7f7f" font={SANS}>pb粉矿</Txt>
      <Swatch x={258} y={625} w={12} h={1.5} color={ORANGE} />
      <Txt x={271} y={625} size={5.5} color="#7f7f7f" font={SANS}>铁矿期货价格</Txt>
      <Txt x={77} y={632} size={5.5} color="#7f7f7f">元/吨</Txt>
      <Txt x={358} y={631} size={5.5} color="#7f7f7f">元/吨</Txt>
      <At x={70} y={620}><BasisChart /></At>
      <Txt x={582} y={624} size={13} color="#808080" center style={{ textDecoration: "underline" }}>价格:块矿溢价:62.5% 日</Txt>
      <Txt x={417} y={635} size={8} color={GREY}>美元/干吨度</Txt>
      <At x={405} y={620}><LumpPremiumChart /></At>
      <Source x={76} y={812.5} />
      <Source x={415} y={812.5} />

      {/* row 4 */}
      <Title x={86} y={849}>块粉矿价差环比微幅回升</Title>
      <Title x={426} y={849}>四大矿商发货量环比持稳</Title>
      <Rule x1={68} x2={401} y={860} />
      <Rule x1={404} x2={738} y={860} />
      <Swatch x={142} y={873} w={15} h={8} color={ORANGE} />
      <Txt x={159} y={873} size={10} color={GREY}>块粉矿价差 日</Txt>
      <Swatch x={142} y={888.5} w={15} h={3} color={NAVY} />
      <Txt x={159} y={888.5} size={10} color={GREY}>车板价:青岛港:澳大利亚:PB粉矿:61.5% 日</Txt>
      <Swatch x={142} y={904} w={15} h={3} color={RED} />
      <Txt x={159} y={904} size={10} color={GREY}>车板价:青岛港:澳大利亚:PB块矿:62.5% 日</Txt>
      <Txt x={77} y={898} size={10.5} color="#404040">元/吨</Txt>
      <Txt x={351} y={898} size={10.5} color="#404040">元/吨</Txt>
      <At x={70} y={890}><LumpFineChart /></At>
      <Swatch x={458} y={872} w={10} h={1.6} color={NAVY} />
      <Txt x={470} y={872} size={5.5} color="#7f7f7f" font={SANS}>发货量:巴西:铁矿石:淡水河谷</Txt>
      <Swatch x={577} y={872} w={11} h={1.6} color={ORANGE} />
      <Txt x={590} y={872} size={5.5} color="#7f7f7f" font={SANS}>发货量:澳大利亚:铁矿石:力拓</Txt>
      <Swatch x={458} y={884} w={10} h={1.6} color="#4cc3a5" />
      <Txt x={470} y={884} size={5.5} color="#7f7f7f" font={SANS}>发货量:澳大利亚:铁矿石:必和必拓</Txt>
      <Swatch x={577} y={884} w={11} h={1.6} color="#2a8c7e" />
      <Txt x={590} y={884} size={5.5} color="#7f7f7f" font={SANS}>发货量:澳大利亚:铁矿石:FMG</Txt>
      <Txt x={424} y={877} size={6} color="#7f7f7f">万吨</Txt>
      <At x={405} y={865}><ShipmentChart /></At>
      <Source x={73} y={1063} />
      <Source x={410} y={1063} />

      <Txt x={122} y={1091} size={13} color="#404040">请务必阅读正文之后的免责声明</Txt>
    </div>
  )
}
